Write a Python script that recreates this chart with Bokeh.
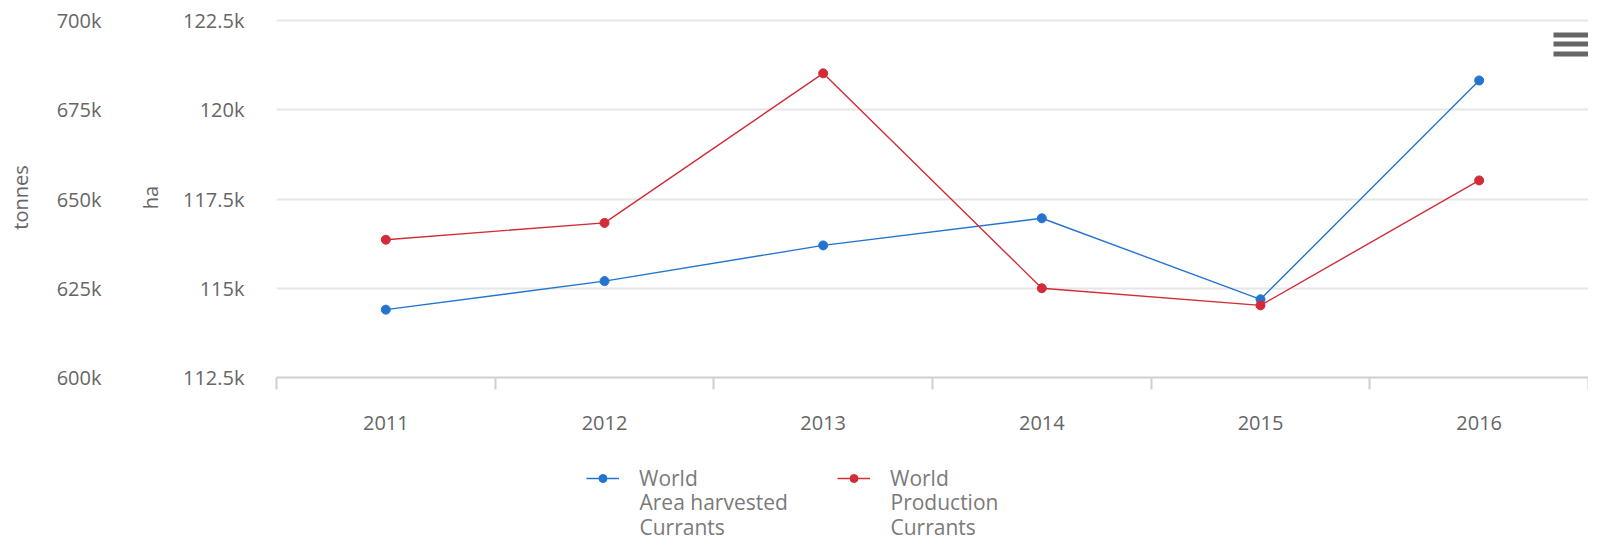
from bokeh.plotting import figure
from bokeh.layouts import column
from bokeh.models import (Range1d, LinearAxis, FixedTicker, Grid, Legend, LegendItem,
                          BoxAnnotation, Label)
from bokeh.embed import file_html
from bokeh.resources import INLINE

# ---- data ----
years = [2011, 2012, 2013, 2014, 2015, 2016]
area_harvested_ha = [114400, 115200, 116200, 116960, 114690, 120820]
production_tonnes = [638600, 643300, 685200, 625000, 620200, 655200]
tonnes_ticks = [600000, 625000, 650000, 675000, 700000]
tonnes_labels = ["600k", "625k", "650k", "675k", "700k"]
ha_ticks = [112500, 115000, 117500, 120000, 122500]
ha_labels = ["112.5k", "115k", "117.5k", "120k", "122.5k"]
series_lines = [["World", "Area harvested", "Currants"], ["World", "Production", "Currants"]]

BLUE = "#2474cf"
RED = "#d12c37"
FONT = "Open Sans"
TXT = "#666666"
LEG_TXT = "#7a7a7a"
FS = "20px"
LFS = "21px"
W = 1588
MAIN_H = 434
LEG_H = 107

# small headroom so the top grid line is not clipped (3 px of the 357 px span)
t_pad = (tonnes_ticks[-1] - tonnes_ticks[0]) * 3 / 357
h_pad = (ha_ticks[-1] - ha_ticks[0]) * 3 / 357

p = figure(width=W, height=MAIN_H, output_backend="svg", toolbar_location=None,
           x_range=Range1d(years[0] - 0.5, years[-1] + 0.5),
           y_range=Range1d(tonnes_ticks[0], tonnes_ticks[-1] + t_pad),
           y_axis_location=None,
           min_border_left=276, min_border_right=0, min_border_top=17,
           min_border_bottom=MAIN_H - 377)
p.outline_line_color = None
p.grid.visible = False
p.extra_y_ranges = {"ha": Range1d(ha_ticks[0], ha_ticks[-1] + h_pad)}

p.add_layout(Grid(dimension=1, ticker=FixedTicker(ticks=tonnes_ticks),
                  grid_line_color="#e6e6e6", grid_line_width=2))

# x axis
xa = p.xaxis[0]
xa.ticker = FixedTicker(ticks=years, minor_ticks=[y - 0.5 for y in years] + [years[-1] + 0.5])
xa.major_label_overrides = {y: str(y) for y in years}
xa.major_tick_out = 0
xa.major_tick_in = 0
xa.minor_tick_in = 0
xa.minor_tick_out = 12
xa.axis_line_color = "#d0d0d0"
xa.axis_line_width = 2
xa.minor_tick_line_color = "#d0d0d0"
xa.minor_tick_line_width = 2
xa.major_label_standoff = 26
xa.major_label_text_font = FONT
xa.major_label_text_font_size = FS
xa.major_label_text_color = TXT

def style_y(ax, standoff, title_standoff):
    ax.axis_line_color = None
    ax.major_tick_line_color = None
    ax.minor_tick_line_color = None
    ax.major_tick_out = 0
    ax.major_tick_in = 0
    ax.major_label_standoff = standoff
    ax.major_label_text_font = FONT
    ax.major_label_text_font_size = FS
    ax.major_label_text_color = TXT
    ax.axis_label_text_font = FONT
    ax.axis_label_text_font_size = FS
    ax.axis_label_text_font_style = "normal"
    ax.axis_label_text_color = TXT
    ax.axis_label_standoff = title_standoff

ha_axis = LinearAxis(y_range_name="ha", ticker=FixedTicker(ticks=ha_ticks),
                     major_label_overrides=dict(zip(ha_ticks, ha_labels)), axis_label="ha")
style_y(ha_axis, 32, 16)
p.add_layout(ha_axis, "left")

t_axis = LinearAxis(ticker=FixedTicker(ticks=tonnes_ticks),
                    major_label_overrides=dict(zip(tonnes_ticks, tonnes_labels)), axis_label="tonnes")
style_y(t_axis, 32, 20)
p.add_layout(t_axis, "left")

# series
p.line(years, area_harvested_ha, y_range_name="ha", line_color=BLUE, line_width=1.4)
p.scatter(years, area_harvested_ha, y_range_name="ha", size=9, fill_color=BLUE, line_color=BLUE)
p.line(years, production_tonnes, line_color=RED, line_width=1.4)
p.scatter(years, production_tonnes, size=9, fill_color=RED, line_color=RED)

# menu icon (screen units relative to the plot frame, y measured from its bottom)
for top in [345, 336, 326]:
    p.add_layout(BoxAnnotation(left=1277, right=1312, top=top, bottom=top - 5,
                               left_units="screen", right_units="screen",
                               top_units="screen", bottom_units="screen",
                               fill_color="#666666", fill_alpha=1, line_color=None))

# legend strip below the chart (its renderers hold the same series, kept out of view)
lg = figure(width=W, height=LEG_H, output_backend="svg", toolbar_location=None,
            x_range=Range1d(0, 1), y_range=Range1d(0, 1),
            x_axis_location=None, y_axis_location=None,
            min_border_left=0, min_border_right=0, min_border_top=0, min_border_bottom=0)
lg.outline_line_color = None
lg.grid.visible = False
lb_l = lg.line(years, area_harvested_ha, line_color=BLUE, line_width=1.4)
lb_s = lg.scatter(years, area_harvested_ha, size=9, fill_color=BLUE, line_color=BLUE)
lr_l = lg.line(years, production_tonnes, line_color=RED, line_width=1.4)
lr_s = lg.scatter(years, production_tonnes, size=9, fill_color=RED, line_color=RED)

for (rends, lines, lx) in [((lb_l, lb_s), series_lines[0], 310), ((lr_l, lr_s), series_lines[1], 561)]:
    leg = Legend(items=[LegendItem(label=lines[0], renderers=list(rends))],
                 orientation="horizontal", location=(lx, 49),
                 glyph_width=33, glyph_height=20, label_standoff=20,
                 padding=0, margin=0, border_line_color=None, background_fill_alpha=0,
                 label_text_font=FONT, label_text_font_size=LFS, label_text_color=LEG_TXT)
    lg.add_layout(leg, "center")
    for k, txt in enumerate(lines[1:]):
        lg.add_layout(Label(x=lx + 53, y=40 - 25 * k, x_units="screen", y_units="screen",
                            text=txt, text_font=FONT, text_font_size=LFS,
                            text_color=LEG_TXT, text_baseline="alphabetic"))

open("out.html", "w").write(file_html(column(p, lg, spacing=0), INLINE))
